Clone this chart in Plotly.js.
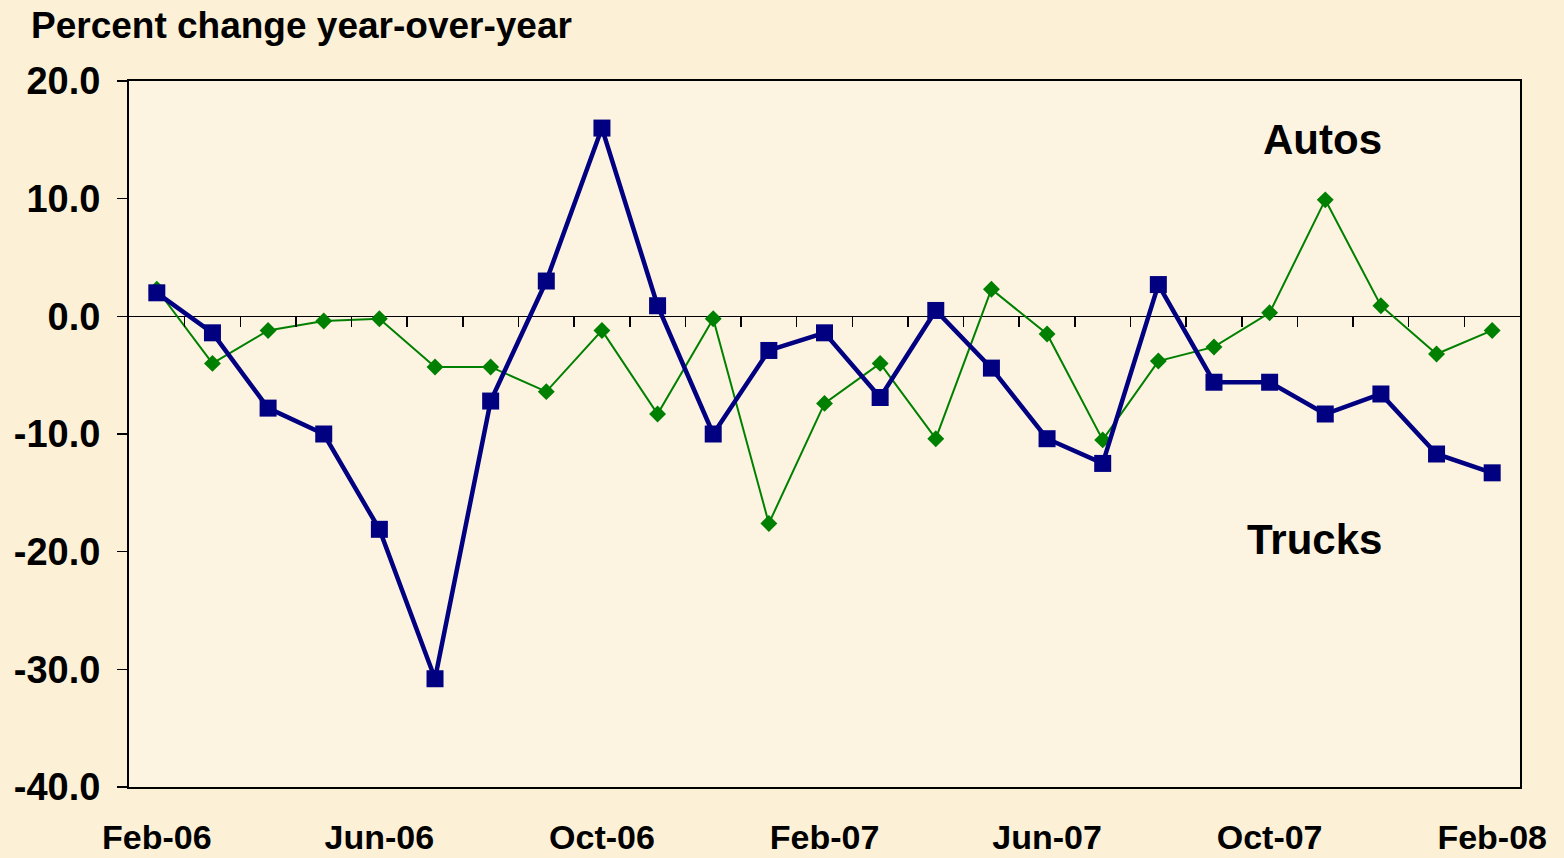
<!DOCTYPE html>
<html>
<head>
<meta charset="utf-8">
<script src="https://cdn.plot.ly/plotly-3.0.1.min.js"></script>
<style>
html,body{margin:0;padding:0;background:#FCF0D7;}
#chart{width:1564px;height:858px;}
</style>
</head>
<body>
<div id="chart"></div>
<script>
// Months (category axis)
var months = ['Feb-06','Mar-06','Apr-06','May-06','Jun-06','Jul-06','Aug-06','Sep-06','Oct-06','Nov-06','Dec-06',
  'Jan-07','Feb-07','Mar-07','Apr-07','May-07','Jun-07','Jul-07','Aug-07','Sep-07','Oct-07','Nov-07','Dec-07',
  'Jan-08','Feb-08'];

// Percent change year-over-year
var trucks = [2.0, -1.4, -7.8, -10.0, -18.1, -30.8, -7.2, 3.0, 16.0, 0.9, -10.0,
  -2.9, -1.4, -6.9, 0.5, -4.4, -10.4, -12.5, 2.7, -5.6, -5.6, -8.3, -6.6,
  -11.7, -13.3];
var autos = [2.3, -4.0, -1.2, -0.4, -0.2, -4.3, -4.3, -6.4, -1.2, -8.3, -0.2,
  -17.6, -7.4, -4.0, -10.4, 2.3, -1.5, -10.5, -3.8, -2.6, 0.3, 9.9, 0.9,
  -3.2, -1.2];

// Tick labels
var xTickLabels = ['Feb-06','Jun-06','Oct-06','Feb-07','Jun-07','Oct-07','Feb-08'];
var yTickVals = [20, 10, 0, -10, -20, -30, -40];
var yTickText = ['20.0', '10.0', '0.0', '-10.0', '-20.0', '-30.0', '-40.0'];

var seriesLabels = ['Autos', 'Trucks'];

var FONT = 'Liberation Sans, Arial, Helvetica, sans-serif';

// Boundaries between months for the tick marks on the zero line
var boundaries = months.slice(1).map(function(_, i){ return i + 0.5; });

var traces = [
  {
    x: months, y: autos, type: 'scatter', mode: 'lines+markers', name: 'Autos',
    line: {color: '#008000', width: 2},
    marker: {symbol: 'diamond', size: 13, color: '#008000'},
    cliponaxis: false
  },
  {
    x: months, y: trucks, type: 'scatter', mode: 'lines+markers', name: 'Trucks',
    line: {color: '#000080', width: 4.5},
    marker: {symbol: 'square', size: 17, color: '#000080'},
    cliponaxis: false
  },
  {
    x: [], y: [], xaxis: 'x2', yaxis: 'y', type: 'scatter', mode: 'markers',
    showlegend: false, hoverinfo: 'skip'
  }
];

var layout = {
  width: 1564, height: 858,
  paper_bgcolor: '#FCF0D7',
  plot_bgcolor: '#FDF3E1',
  showlegend: false,
  margin: {l: 129, r: 44, t: 81, b: 71, pad: 0},
  font: {family: FONT, color: '#000000'},
  title: {
    text: '<b>Percent change year-over-year</b>',
    font: {family: FONT, size: 37, color: '#000000'},
    x: 31/1564, xanchor: 'left', xref: 'container',
    y: 1 - 25/858, yanchor: 'middle', yref: 'container'
  },
  xaxis: {
    type: 'category',
    range: [-0.5, months.length - 0.5],
    tickmode: 'array', tickvals: xTickLabels, ticktext: xTickLabels.map(function(t){return '<b>'+t+'</b>';}),
    ticks: '', showgrid: false, zeroline: false,
    showline: true, linecolor: '#000000', linewidth: 2, mirror: true,
    tickfont: {family: FONT, size: 34, color: '#000000'},
    ticklabelstandoff: 19
  },
  xaxis2: {
    type: 'linear',
    overlaying: 'x', anchor: 'free', position: 40/60, side: 'bottom',
    range: [-0.5, months.length - 0.5],
    tickmode: 'array', tickvals: boundaries,
    ticks: 'outside', ticklen: 10, tickwidth: 1.5, tickcolor: '#000000',
    showticklabels: false, showgrid: false, zeroline: false, showline: false
  },
  yaxis: {
    range: [-40, 20],
    tickmode: 'array', tickvals: yTickVals, ticktext: yTickText.map(function(t){return '<b>'+t+'</b>';}),
    ticks: 'outside', ticklen: 10, tickwidth: 1.5, tickcolor: '#000000',
    showgrid: false,
    zeroline: true, zerolinecolor: '#000000', zerolinewidth: 1.5,
    showline: true, linecolor: '#000000', linewidth: 2, mirror: true,
    tickfont: {family: FONT, size: 38, color: '#000000'},
    ticklabelstandoff: 9
  },
  annotations: [
    {
      x: 20.95, y: 15, xref: 'x', yref: 'y', text: '<b>' + seriesLabels[0] + '</b>', showarrow: false,
      font: {family: FONT, size: 42, color: '#000000'}, xanchor: 'center', yanchor: 'middle'
    },
    {
      x: 20.8, y: -19, xref: 'x', yref: 'y', text: '<b>' + seriesLabels[1] + '</b>', showarrow: false,
      font: {family: FONT, size: 42, color: '#000000'}, xanchor: 'center', yanchor: 'middle'
    }
  ]
};

Plotly.newPlot('chart', traces, layout, {displayModeBar: false, staticPlot: true});
</script>
</body>
</html>
